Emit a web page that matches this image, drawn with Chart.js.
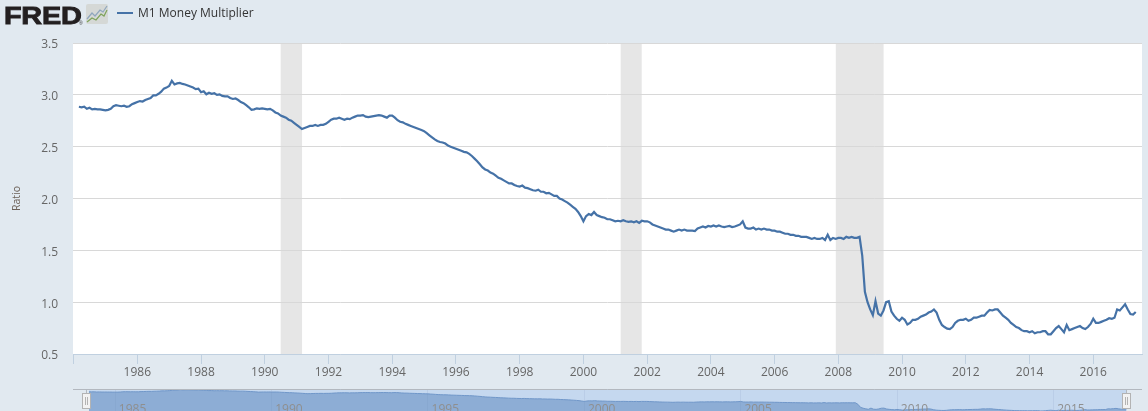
<!DOCTYPE html>
<html><head><meta charset="utf-8">
<script src="https://cdn.jsdelivr.net/npm/chart.js@4"></script>
<style>
html,body{margin:0;padding:0;width:1148px;height:411px;overflow:hidden;background:#e1e9f0;font-family:"Open Sans",sans-serif}
canvas{position:absolute;left:0}
#main{top:0}#nav{top:389px}
#fred{position:absolute;left:3.5px;top:-2px;font:bold 24px/36px "Liberation Sans",sans-serif;color:#231f20;-webkit-text-stroke:.9px #231f20;transform:scaleX(1.2);transform-origin:0 0;letter-spacing:-.2px}
#reg{position:absolute;left:79px;top:20px;font:5px/6px "Liberation Sans",sans-serif;color:#333}
#icon{position:absolute;left:86px;top:4px}
#swatch{position:absolute;left:117px;top:12px;width:16px;height:2px;background:#4572a7}
#legend{position:absolute;left:138px;top:4px;font:12px/18px "Open Sans",sans-serif;color:#333}
</style></head><body>
<canvas id="main" width="1148" height="389" style="width:1148px;height:389px"></canvas>
<canvas id="nav" width="1148" height="22" style="width:1148px;height:22px"></canvas>
<div id="fred">FRED</div><div id="reg">®</div>
<svg id="icon" width="22" height="20" viewBox="0 0 22 20"><rect width="22" height="20" rx="2" fill="#d5d8d6"/><polyline points="1,15 6,9 9,12 14,6 17,8 21,2" fill="none" stroke="#8fa6bd" stroke-width="1.2"/><polyline points="1,18 6,14 10,16 15,10 18,12 21,6" fill="none" stroke="#7ea35a" stroke-width="1.2"/></svg>
<div id="swatch"></div><div id="legend">M1 Money Multiplier</div>
<script>
const seriesName = "M1 Money Multiplier";
const firstMonth = 1984 + 2 / 12;
const m1Multiplier = [
 2.885,2.88,2.885,2.865,2.875,2.86,2.865,2.86,2.86,2.855,
 2.85,2.855,2.865,2.89,2.90,2.895,2.89,2.895,2.885,2.89,2.91,2.92,
 2.93,2.94,2.935,2.95,2.96,2.97,2.995,2.995,3.01,3.03,3.06,3.07,
 3.085,3.135,3.10,3.11,3.115,3.105,3.10,3.09,3.08,3.07,3.055,3.06,
 3.025,3.035,3.005,3.02,3.01,3.015,3.00,3.005,2.99,2.985,2.985,2.97,
 2.96,2.965,2.95,2.93,2.92,2.90,2.88,2.855,2.86,2.87,2.865,2.87,
 2.865,2.86,2.865,2.85,2.83,2.82,2.80,2.79,2.78,2.76,2.75,2.73,
 2.71,2.69,2.67,2.68,2.69,2.70,2.70,2.71,2.70,2.71,2.71,2.72,
 2.74,2.76,2.77,2.77,2.78,2.77,2.76,2.77,2.765,2.78,2.79,2.80,
 2.80,2.805,2.79,2.785,2.79,2.795,2.80,2.805,2.80,2.79,2.78,2.80,
 2.80,2.78,2.755,2.74,2.735,2.72,2.71,2.70,2.69,2.68,2.67,2.66,
 2.65,2.63,2.61,2.59,2.57,2.555,2.545,2.54,2.53,2.51,2.50,2.49,
 2.48,2.47,2.46,2.45,2.445,2.43,2.41,2.385,2.36,2.33,2.30,2.28,
 2.27,2.25,2.24,2.22,2.20,2.19,2.175,2.16,2.145,2.145,2.13,2.12,
 2.115,2.125,2.105,2.10,2.09,2.08,2.075,2.085,2.065,2.065,2.05,2.055,
 2.04,2.025,2.025,2.00,1.99,1.975,1.96,1.94,1.92,1.90,1.87,1.83,
 1.78,1.83,1.85,1.84,1.87,1.84,1.83,1.82,1.815,1.80,1.80,1.79,
 1.78,1.785,1.78,1.79,1.78,1.775,1.78,1.77,1.78,1.765,1.785,1.78,
 1.78,1.77,1.75,1.74,1.73,1.72,1.71,1.70,1.70,1.69,1.68,1.69,
 1.70,1.69,1.70,1.69,1.69,1.69,1.685,1.71,1.72,1.73,1.72,1.735,
 1.73,1.74,1.73,1.74,1.73,1.725,1.73,1.735,1.725,1.73,1.74,1.75,
 1.78,1.72,1.71,1.71,1.72,1.70,1.71,1.70,1.71,1.70,1.70,1.69,
 1.69,1.68,1.68,1.67,1.66,1.66,1.65,1.65,1.64,1.64,1.63,1.63,
 1.63,1.62,1.61,1.62,1.61,1.61,1.62,1.60,1.65,1.60,1.62,1.61,
 1.62,1.62,1.61,1.63,1.62,1.63,1.62,1.62,1.63,1.45,1.10,1.00,
 0.93,0.875,1.01,0.89,0.87,0.92,1.00,1.01,0.91,0.87,0.84,0.82,
 0.85,0.83,0.785,0.80,0.83,0.83,0.84,0.86,0.87,0.88,0.90,0.91,
 0.93,0.90,0.83,0.78,0.76,0.745,0.74,0.76,0.80,0.82,0.83,0.83,
 0.84,0.82,0.83,0.85,0.85,0.86,0.87,0.87,0.90,0.925,0.92,0.93,
 0.93,0.90,0.87,0.85,0.83,0.80,0.78,0.76,0.75,0.73,0.72,0.72,
 0.71,0.72,0.70,0.71,0.71,0.72,0.72,0.69,0.69,0.72,0.75,0.77,
 0.74,0.71,0.78,0.73,0.74,0.75,0.76,0.77,0.75,0.74,0.76,0.79,
 0.84,0.80,0.80,0.81,0.82,0.83,0.845,0.84,0.85,0.93,0.92,0.95,
 0.98,0.93,0.885,0.88,0.905
];
const yTicks = [0.5,1.0,1.5,2.0,2.5,3.0,3.5];
const xTickYears = [1986,1988,1990,1992,1994,1996,1998,2000,2002,2004,2006,2008,2010,2012,2014,2016];
const navTickYears = [1985,1990,1995,2000,2005,2010,2015];
const recessions = [[1990.5,1991.17],[2001.17,2001.83],[2007.92,2009.42]];
const xMin = 1983.982, xMax = 2017.53;
const navMin = 1981.323, navMax = 2018.024;
const points = m1Multiplier.map((v,i)=>({x:firstMonth+i/12,y:v}));
const lastMonth = firstMonth+(m1Multiplier.length-1)/12;
const FONT = '"Open Sans",sans-serif';

const plotBackground = {
  id:'plotBackground',
  beforeDraw(c){
    const {ctx,chartArea:a,scales:{x}} = c;
    ctx.save();
    ctx.fillStyle='#ffffff';
    ctx.fillRect(a.left,a.top,a.right-a.left,a.bottom-a.top);
    ctx.fillStyle='#e6e6e6';
    recessions.forEach(([s,e])=>{
      const l=x.getPixelForValue(s), r=x.getPixelForValue(e);
      ctx.fillRect(l,a.top,r-l,a.bottom-a.top);
    });
    ctx.restore();
  }
};

new Chart(document.getElementById('main'),{
  type:'line',
  data:{datasets:[{label:seriesName,data:points,borderColor:'#4572a7',borderWidth:2.2,pointRadius:0,tension:0,fill:false}]},
  plugins:[plotBackground],
  options:{
    responsive:false,animation:false,devicePixelRatio:1,parsing:false,
    layout:{padding:{top:43,right:6,bottom:0,left:0}},
    plugins:{legend:{display:false},tooltip:{enabled:false}},
    scales:{
      x:{type:'linear',min:xMin,max:xMax,
        afterBuildTicks(s){s.ticks=[xMin,...xTickYears].map(v=>({value:v}));},
        afterFit(s){s.height=35;},
        border:{color:'#c0d0e0',width:1},
        grid:{drawOnChartArea:false,drawTicks:true,tickLength:10,tickColor:'#c0d0e0',color:'#c0d0e0'},
        ticks:{autoSkip:false,maxRotation:0,minRotation:0,padding:1,color:'#666',font:{family:FONT,size:12},
          callback:v=>v===xMin?'':String(v)}
      },
      y:{min:0.5,max:3.5,
        afterBuildTicks(s){s.ticks=yTicks.map(v=>({value:v}));},
        afterFit(s){s.width=73;},
        border:{display:false},
        grid:{color:'#d8d8d8',lineWidth:1,tickLength:0,drawTicks:false},
        ticks:{padding:15,labelOffset:2,color:'#666',font:{family:FONT,size:12},callback:v=>v.toFixed(1)},
        title:{display:true,text:'Ratio',color:'#6b6057',font:{family:FONT,size:10.5,weight:'normal'},padding:{top:11,bottom:0}}
      }
    }
  }
});

const navigatorFrame = {
  id:'navigatorFrame',
  beforeDraw(c){
    const {ctx,scales:{x},chartArea:a}=c;
    const l=x.getPixelForValue(firstMonth), r=x.getPixelForValue(lastMonth);
    ctx.save();
    ctx.fillStyle='#c5d8ef';
    ctx.fillRect(l,a.top,r-l,a.bottom-a.top);
    ctx.restore();
  },
  afterDraw(c){
    const {ctx,scales:{x}}=c;
    const l=x.getPixelForValue(firstMonth), r=x.getPixelForValue(lastMonth);
    ctx.save();
    ctx.strokeStyle='#b3b8bf';ctx.lineWidth=1;
    ctx.beginPath();ctx.moveTo(73,0.5);ctx.lineTo(1142,0.5);ctx.stroke();
    [Math.round(l)-2.5,Math.round(r)+0.5].forEach(p=>{
      ctx.beginPath();ctx.moveTo(p,0);ctx.lineTo(p,4);ctx.stroke();
      ctx.fillStyle='#f2f2f2';ctx.strokeStyle='#b3b3b3';
      ctx.fillRect(p-4,4.5,8,15);ctx.strokeRect(p-4,4.5,8,15);
      ctx.beginPath();ctx.moveTo(p-1,8);ctx.lineTo(p-1,16);ctx.moveTo(p+1,8);ctx.lineTo(p+1,16);ctx.stroke();
      ctx.strokeStyle='#b3b8bf';
    });
    ctx.restore();
  }
};

new Chart(document.getElementById('nav'),{
  type:'line',
  data:{datasets:[{label:seriesName,data:points,borderColor:'#7097c9',borderWidth:1,pointRadius:0,tension:0,fill:'start',backgroundColor:'#8dadd5'}]},
  plugins:[navigatorFrame],
  options:{
    responsive:false,animation:false,devicePixelRatio:1,parsing:false,
    layout:{padding:0},
    plugins:{legend:{display:false},tooltip:{enabled:false}},
    scales:{
      x:{type:'linear',min:navMin,max:navMax,
        afterBuildTicks(s){s.ticks=navTickYears.map(v=>({value:v}));},
        afterFit(s){s.height=0;},
        border:{display:false},
        grid:{z:1,color:'rgba(110,130,170,.12)',drawTicks:false,tickLength:0},
        ticks:{z:1,mirror:true,autoSkip:false,maxRotation:0,padding:-6,labelOffset:17.5,color:'#8f8f8f',font:{family:FONT,size:12},callback:v=>String(v)}
      },
      y:{display:false,min:0.68,max:3.21}
    }
  }
});
</script>
</body></html>
